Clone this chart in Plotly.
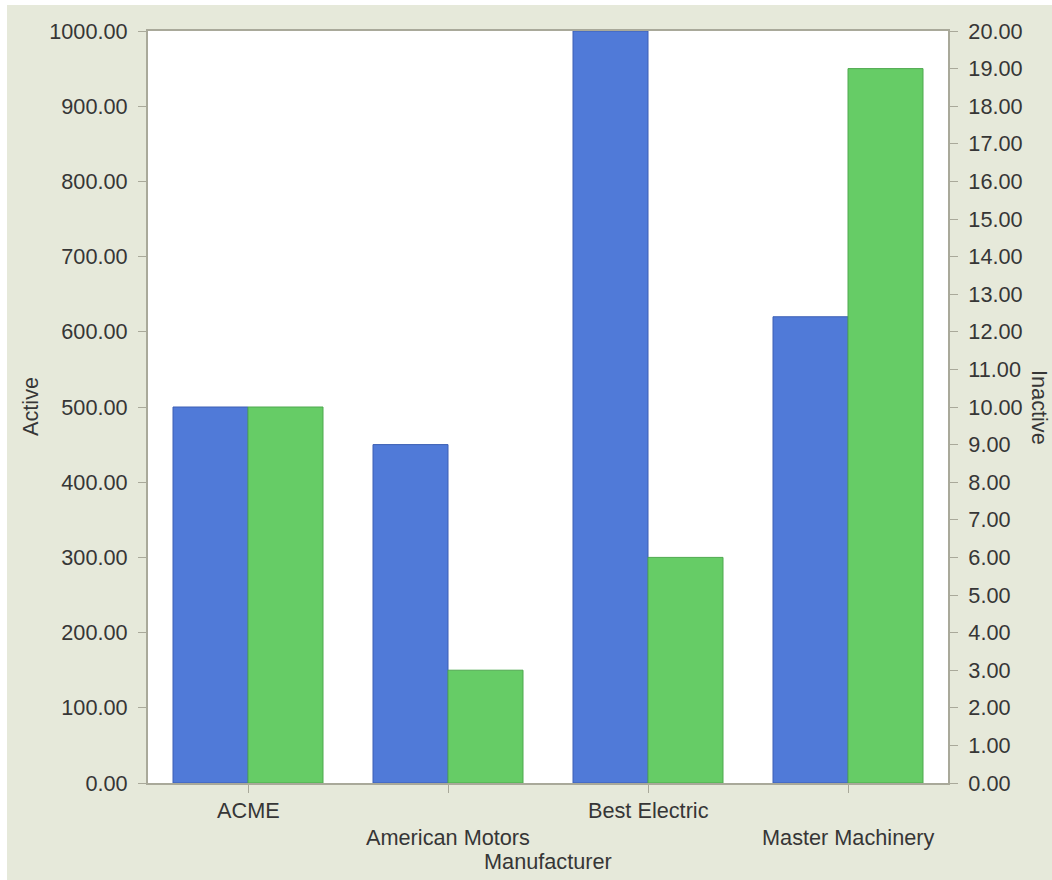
import plotly.graph_objects as go

# Chart data
manufacturers = ["ACME", "American Motors", "Best Electric", "Master Machinery"]
active = [500, 450, 1000, 620]
inactive = [10, 3, 6, 19]

left_ticks = list(range(0, 1001, 100))
right_ticks = list(range(0, 21, 1))

font_family = "Liberation Sans, Arial, sans-serif"
text_color = "#363636"
frame_color = "#A9A99A"
fsize = 21.7

fig = go.Figure()

fig.add_trace(go.Bar(
    x=manufacturers, y=active, name="Active", yaxis="y",
    offsetgroup="1",
    marker=dict(color="#507AD8", line=dict(color="#3C5FB4", width=1)),
))
fig.add_trace(go.Bar(
    x=manufacturers, y=inactive, name="Inactive", yaxis="y2",
    offsetgroup="2",
    marker=dict(color="#66CC66", line=dict(color="#4FA84F", width=1)),
))

# Staggered category labels (alternate rows), placed on the category axis
for i, name in enumerate(manufacturers):
    fig.add_annotation(
        x=name, xref="x", y=-0.036 if i % 2 == 0 else -0.073, yref="paper",
        text=name, showarrow=False, yanchor="middle",
        font=dict(size=fsize, color=text_color, family=font_family),
    )

fig.add_annotation(
    x=0.5, xref="paper", y=-0.105, yref="paper", text="Manufacturer",
    showarrow=False, yanchor="middle",
    font=dict(size=fsize, color=text_color, family=font_family),
)
fig.add_annotation(
    x=-0.1475, xref="paper", y=0.5, yref="paper", text="Active",
    showarrow=False, textangle=-90, xanchor="center",
    font=dict(size=fsize, color=text_color, family=font_family),
)
fig.add_annotation(
    x=1.115, xref="paper", y=0.5, yref="paper", text="Inactive",
    showarrow=False, textangle=90, xanchor="center",
    font=dict(size=fsize, color=text_color, family=font_family),
)

fig.update_layout(
    width=1045, height=875,
    margin=dict(l=141, r=104, t=26, b=97),
    paper_bgcolor="#E6E9DA",
    plot_bgcolor="white",
    barmode="group",
    bargap=0.25,
    bargroupgap=0,
    showlegend=False,
    font=dict(family=font_family, size=fsize, color=text_color),
    xaxis=dict(
        showticklabels=False, ticks="outside", ticklen=8, tickcolor=frame_color,
        showline=True, linecolor=frame_color, linewidth=2, mirror=True,
        showgrid=False,
    ),
    yaxis=dict(
        range=[0, 1000], tickvals=left_ticks, tickformat=".2f",
        ticks="outside", ticklen=8, tickcolor=frame_color,
        ticklabelstandoff=6,
        showline=True, linecolor=frame_color, linewidth=2,
        showgrid=False, zeroline=False,
        tickfont=dict(size=fsize, color=text_color),
    ),
    yaxis2=dict(
        range=[0, 20], tickvals=right_ticks, tickformat=".2f",
        overlaying="y", side="right",
        ticks="outside", ticklen=8, tickcolor=frame_color,
        ticklabelstandoff=6,
        showline=True, linecolor=frame_color, linewidth=2,
        showgrid=False, zeroline=False,
        tickfont=dict(size=fsize, color=text_color),
    ),
)

fig.write_html("out.html", post_script="document.body.style.margin='5px 0 0 7px';")
